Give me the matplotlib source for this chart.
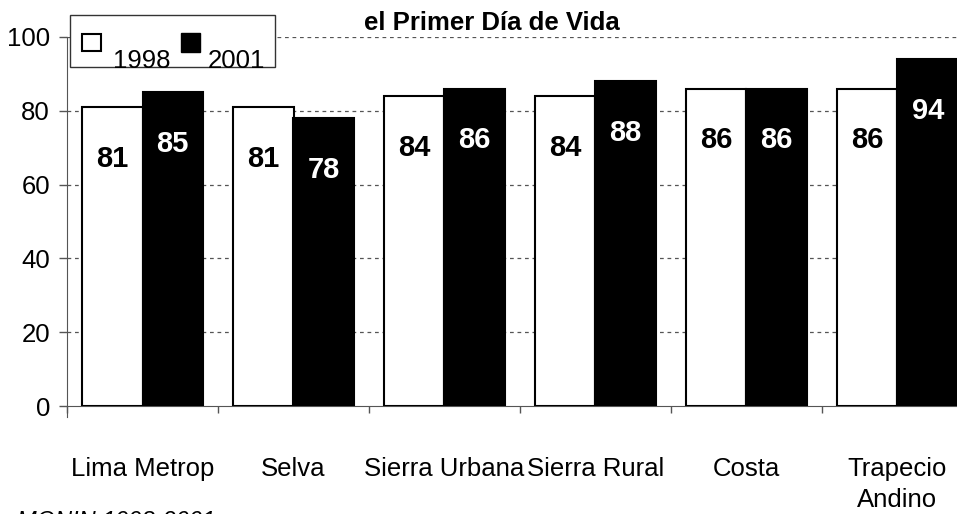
import matplotlib
matplotlib.use("Agg")
import matplotlib.pyplot as plt
from matplotlib.patches import Rectangle
import numpy as np

categories = ["Lima Metrop", "Selva", "Sierra Urbana", "Sierra Rural", "Costa", "Trapecio\nAndino"]
years = ["1998", "2001"]
values_1998 = [81, 81, 84, 84, 86, 86]
values_2001 = [85, 78, 86, 88, 86, 94]
yticks = [0, 20, 40, 60, 80, 100]
title = "el Primer Día de Vida"
source = "MONIN 1998-2001"

NARROW = ["Liberation Sans Narrow", "Liberation Sans", "DejaVu Sans"]
SANS = ["Liberation Sans", "DejaVu Sans"]
NFS = 18.5

W, H = 957, 514
fig = plt.figure(figsize=(W / 100, H / 100), dpi=100)
left, right, top, bottom = 67, 973, 37, 406
ax = fig.add_axes([left / W, 1 - bottom / H, (right - left) / W, (bottom - top) / H])

x = np.arange(len(categories))
bw = 0.4
ax.bar(x - bw / 2, values_1998, bw, color="white", edgecolor="black", linewidth=1.5, zorder=3)
ax.bar(x + bw / 2, values_2001, bw, color="black", edgecolor="black", linewidth=1.5, zorder=3)

for xi, v in zip(x, values_1998):
    ax.text(xi - bw / 2, v - 14, str(v), ha="center", va="center", color="black",
            fontsize=21, fontweight="bold", family=SANS, zorder=4)
for xi, v in zip(x, values_2001):
    ax.text(xi + bw / 2, v - 14, str(v), ha="center", va="center", color="white",
            fontsize=21, fontweight="bold", family=SANS, zorder=4)

ax.set_xlim(-0.5, len(categories) - 0.5)
ax.set_ylim(0, 100)
ax.set_yticks(yticks)
ax.set_yticklabels([str(t) for t in yticks], fontsize=NFS, family=NARROW)
for yv in yticks[1:]:
    ax.axhline(yv, color="#555555", linestyle=(0, (3, 3)), linewidth=0.9, zorder=1)

ax.set_xticks(np.arange(len(categories) + 1) - 0.5)
ax.set_xticklabels([])
ax.set_xticks(x, minor=True)
ax.set_xticklabels(categories, minor=True, fontsize=NFS, family=NARROW, linespacing=1.35)
ax.tick_params(axis="x", which="minor", length=0, pad=37)
ax.tick_params(axis="x", which="major", length=5, width=1, color="#555555", direction="out")
ax.tick_params(axis="y", length=5.8, width=1, color="#555555", pad=6.5, direction="out")

for s in ["top", "right"]:
    ax.spines[s].set_visible(False)
ax.spines["left"].set_color("#555555")
ax.spines["bottom"].set_color("#555555")
ax.spines["left"].set_bounds(-3, 100)

# title
fig.text(492 / W, 1 - 30 / H, title, ha="center", va="baseline", fontsize=18.5,
         fontweight="bold", family=SANS)

# legend (manual)
fig.patches.append(Rectangle((70 / W, 1 - 67 / H), 205 / W, 52 / H, transform=fig.transFigure,
                             facecolor="white", edgecolor="#333333", linewidth=1, zorder=5))
fig.patches.append(Rectangle((82 / W, 1 - 51 / H), 19 / W, 17 / H, transform=fig.transFigure,
                             facecolor="white", edgecolor="black", linewidth=1.5, zorder=6))
fig.patches.append(Rectangle((181 / W, 1 - 52 / H), 19 / W, 19 / H, transform=fig.transFigure,
                             facecolor="black", edgecolor="black", linewidth=1, zorder=6))
fig.text(113 / W, 1 - 68 / H, years[0], ha="left", va="baseline", fontsize=NFS, family=NARROW, zorder=7)
fig.text(208 / W, 1 - 68 / H, years[1], ha="left", va="baseline", fontsize=NFS, family=NARROW, zorder=7)

# source (cut off at the bottom, as in the original)
fig.text(17 / W, 1 - 510 / H, source, ha="left", va="top", fontsize=17, style="italic", family=SANS)

fig.savefig("out.png", dpi=100)
